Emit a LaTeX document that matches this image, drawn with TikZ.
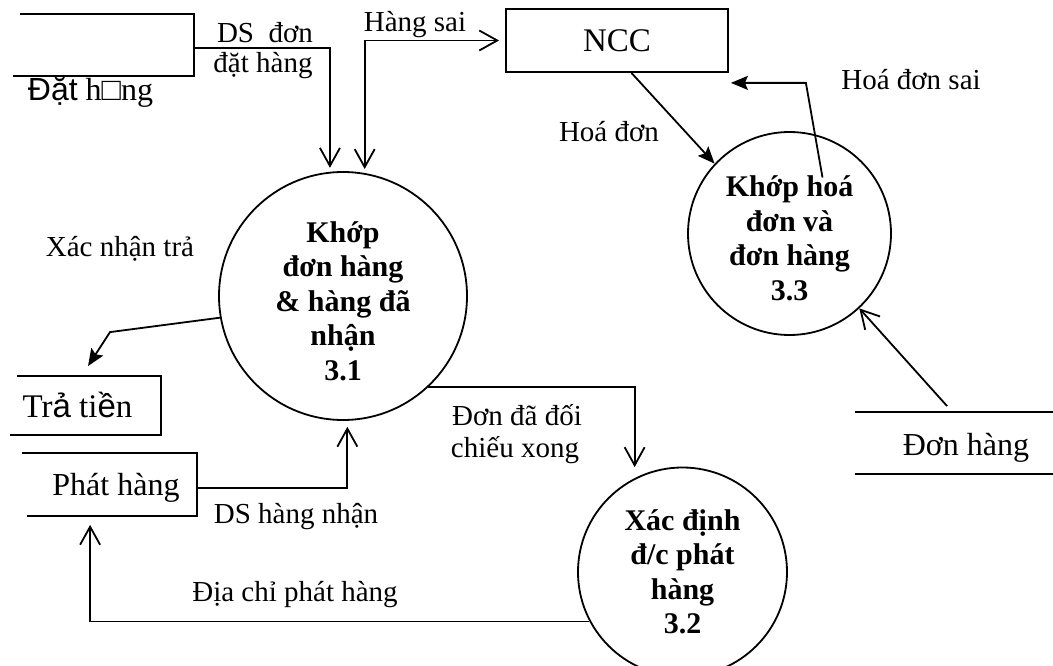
\documentclass[tikz,border=0pt]{standalone}
\usepackage{fontspec}
\setmainfont{Liberation Serif}
\newfontfamily\arialf{Liberation Sans}
\usetikzlibrary{arrows.meta,calc}
\begin{document}
\begin{tikzpicture}[x=1pt,y=-1pt,
  line width=1.8pt,
  oa/.style={-{Straight Barb[length=18pt,width=20pt]}},
  oab/.style={{Straight Barb[length=18pt,width=20pt]}-{Straight Barb[length=18pt,width=20pt]}},
  fa/.style={-{Stealth[length=17pt,width=14pt,inset=3pt]}},
  lbl/.style={anchor=base,inner sep=0,font=\fontsize{29}{33}\selectfont},
  ent/.style={anchor=base,inner sep=0,font=\fontsize{32}{36}\selectfont},
  proc/.style={circle,draw,inner sep=0},
  ptext/.style={inner sep=0,align=center,font=\fontsize{30}{34.5}\selectfont\bfseries},
  storebox/.style={inner sep=0,draw=none}
]
\useasboundingbox (0,0) rectangle (1053,666);

% processes
\node[proc,minimum size=248pt] (p31) at (343,296) {};
\node[ptext] (p31t) at ($(p31.center)+(0,5)$) {Khớp\\đơn hàng\\\& hàng đã\\nhận\\3.1};
\node[proc,minimum size=203pt] (p33) at (789.5,233.5) {};
\node[ptext] (p33t) at ($(p33.center)+(0,5)$) {Khớp hoá\\đơn và\\đơn hàng\\3.3};
\node[proc,minimum size=209pt] (p32) at (682.5,572) {};
\node[ptext] (p32t) at ($(p32.center)+(0,0)$) {Xác định\\đ/c phát\\hàng\\3.2};

% external entity
\node[draw,minimum width=222pt,minimum height=63pt,inner sep=0,font=\fontsize{33}{36}\selectfont] (ncc) at (617,40.5) {NCC};

% stores
\node[storebox,minimum width=179pt,minimum height=60pt] (dh) at (103.5,45) {};
\draw ($(dh.north west)+(7,0)$) -- (dh.north east) -- (dh.south east) -- (dh.south west);
\node[ent] (dhT) at (90.5,101) {{\arialf Đặt} h□ng};

\node[storebox,minimum width=149pt,minimum height=57pt] (tt) at (85.5,405.5) {};
\draw ($(tt.north west)+(7,0)$) -- (tt.north east) -- (tt.south east) -- (tt.south west);
\node[ent,font=\fontsize{33}{36}\selectfont] (ttT) at (77.5,417) {Tr{\arialf ả} ti{\arialf ề}n};

\node[storebox,minimum width=173pt,minimum height=61pt] (ph) at (109.5,484.5) {};
\draw (ph.north west) -- (ph.north east) -- (ph.south east) -- ($(ph.south west)+(5,0)$);
\node[ent] (phT) at (116,495) {Phát hàng};

\node[storebox,minimum width=197pt,minimum height=60pt] (dg) at (954.5,443) {};
\draw (dg.north west) -- (dg.north east);
\draw (dg.south west) -- (dg.south east);
\node[ent] (dgT) at (966,455) {Đơn hàng};

% connectors
\draw[oa,shorten >=4pt] ($(dh.north east)!0.55!(dh.south east)$) -| (p31.96);
\draw[oab,shorten <=4pt,shorten >=6pt] (p31.80) |- (ncc.west);
\draw[fa] (ncc.-66) -- (p33.137);
\draw[fa] ($(p33.center)+(33,-56)$) -- ($(ncc.south east)+(77,10)$) -- ($(ncc.south east)+(2,10)$);
\draw[oa] ($(dg.north west)+(92,-6)$) -- (p33.-47);
\draw[fa] (p31.190) -- ($(tt.north)+(24.5,-44)$) -- ($(tt.north)+(2.5,-10)$);
\draw[oa,shorten >=6pt] ($(ph.east)+(0,3.5)$) -| (p31.-88);
\draw[oa,shorten >=9pt] (p32.208) -| ($(ph.south west)+(68,0)$);
\draw[oa,shorten >=11pt] (p31.-47) -| (p32.117);

% labels
\node[lbl] (l1) at (265,43) {DS~~đơn};
\node[lbl] (l2) at (263,73) {đặt hàng};
\node[lbl] (l3) at (415,32) {Hàng sai};
\node[lbl] (l4) at (609,142) {Hoá đơn};
\node[lbl] (l5) at (911,90) {Hoá đơn sai};
\node[lbl] (l6) at (120,256) {Xác nhận trả};
\node[lbl] (l7) at (296,523) {DS hàng nhận};
\node[lbl] (l8) at (295,601) {Địa chỉ phát hàng};
\node[lbl] (l9) at (517,425) {Đơn đã đối};
\node[lbl] (l10) at (515,457) {chiếu xong};
\end{tikzpicture}
\end{document}
